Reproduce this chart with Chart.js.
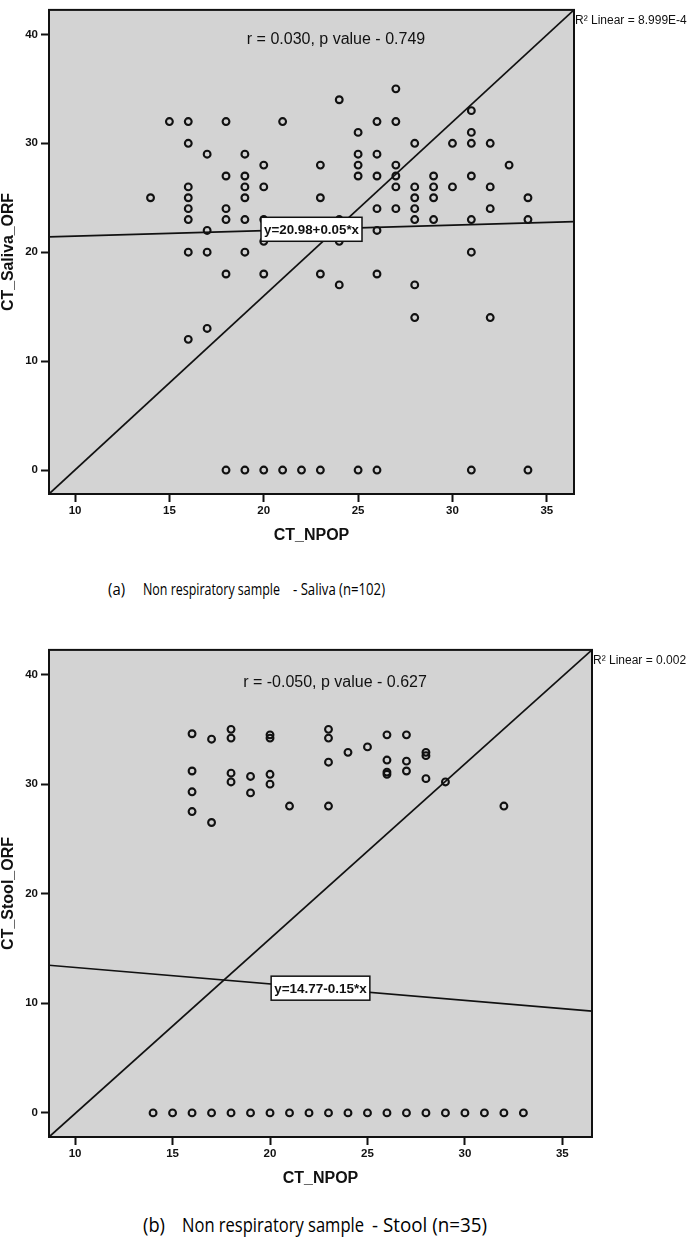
<!DOCTYPE html>
<html>
<head>
<meta charset="utf-8">
<script src="https://cdn.jsdelivr.net/npm/chart.js@4.4.1/dist/chart.umd.min.js"></script>
<style>
  html, body { margin: 0; padding: 0; background: #fff; }
  #page { position: relative; width: 689px; height: 1237px; overflow: hidden; }
  canvas { position: absolute; left: 0; }
  .cap { position: absolute; font-family: "Open Sans", "Noto Sans", sans-serif; color: #000; white-space: nowrap; transform-origin: 0 50%; }
</style>
</head>
<body>
<div id="page">
  <canvas id="chartA" width="689" height="560" style="top:0"></canvas>
  <canvas id="chartB" width="689" height="560" style="top:640px"></canvas>
</div>
<script>
// (a) saliva
const salivaNPOP = [14, 15,
  16, 16, 16, 16, 16, 16, 16, 16,
  17, 17, 17, 17,
  18, 18, 18, 18, 18, 18,
  19, 19, 19, 19, 19, 19, 19,
  20, 20, 20, 20, 20, 20,
  21, 21, 22,
  23, 23, 23, 23,
  24, 24, 24, 24,
  25, 25, 25, 25, 25,
  26, 26, 26, 26, 26, 26, 26,
  27, 27, 27, 27, 27, 27,
  28, 28, 28, 28, 28, 28, 28,
  29, 29, 29, 29,
  30, 30,
  31, 31, 31, 31, 31, 31, 31,
  32, 32, 32, 32,
  33,
  34, 34, 34];
const salivaORF = [25, 32,
  32, 30, 26, 25, 24, 23, 20, 12,
  29, 22, 20, 13,
  32, 27, 24, 23, 18, 0,
  29, 27, 26, 25, 23, 20, 0,
  28, 26, 23, 21, 18, 0,
  32, 0, 0,
  28, 25, 18, 0,
  34, 23, 21, 17,
  31, 29, 28, 27, 0,
  32, 29, 27, 24, 22, 18, 0,
  35, 32, 28, 27, 26, 24,
  30, 26, 25, 24, 23, 17, 14,
  27, 26, 25, 23,
  30, 26,
  33, 31, 30, 27, 23, 20, 0,
  30, 26, 24, 14,
  28,
  25, 23, 0];

// (b) stool
const stoolNPOP = [16, 16, 16, 16, 17, 17, 18, 18, 18, 18, 19, 19,
  20, 20, 20, 20, 21, 23, 23, 23, 23, 24, 25, 26, 26, 26, 26, 27, 27, 27,
  28, 28, 28, 29, 32,
  14, 15, 16, 17, 18, 19, 20, 21, 22, 23, 24, 25, 26, 27, 28, 29, 30, 31, 32, 33];
const stoolORF = [34.6, 31.2, 29.3, 27.5, 34.1, 26.5, 35, 34.2, 31, 30.2, 30.7, 29.2,
  34.5, 34.2, 30.9, 30, 28, 35, 34.2, 32, 28, 32.9, 33.4, 34.5, 32.2, 31.1, 30.9, 34.5, 32.1, 31.2,
  32.9, 32.6, 30.5, 30.2, 28,
  0, 0, 0, 0, 0, 0, 0, 0, 0, 0, 0, 0, 0, 0, 0, 0, 0, 0, 0, 0];

const xTickValues = [10, 15, 20, 25, 30, 35];
const yTickValues = [0, 10, 20, 30, 40];
const yLimits = [-2.2, 42.25];
const salivaXLimits = [8.62, 36.44];
const stoolXLimits = [8.66, 36.52];

// fit lines as printed on the charts
const salivaFit = [20.98, 0.05];
const stoolFit = [14.77, -0.15];

const INK = '#111';
const PLOT_BG = '#d3d3d3';
const SANS = '"Liberation Sans", Arial, sans-serif';

function makeDecor(d) {
  return {
    id: 'decor',
    beforeDraw(chart) {
      const { ctx, chartArea: a } = chart;
      ctx.save();
      ctx.fillStyle = PLOT_BG;
      ctx.fillRect(a.left, a.top, a.right - a.left, a.bottom - a.top);
      ctx.restore();
    },
    afterDatasetsDraw(chart) {
      const { ctx, chartArea: a, scales } = chart;
      ctx.save();
      // fit equation box, centred on the fit line at mid-plot
      const cx = (a.left + a.right) / 2;
      const xv = scales.x.getValueForPixel(cx);
      const cy = scales.y.getPixelForValue(d.fit[0] + d.fit[1] * xv);
      ctx.font = 'bold 13.5px ' + SANS;
      const w = Math.min(ctx.measureText(d.fitLabel).width, 95) + 6;
      const h = 24;
      ctx.fillStyle = '#fff';
      ctx.fillRect(cx - w / 2, cy - h / 2, w, h);
      ctx.lineWidth = 1.5;
      ctx.strokeStyle = INK;
      ctx.strokeRect(cx - w / 2, cy - h / 2, w, h);
      ctx.fillStyle = INK;
      ctx.textAlign = 'center';
      ctx.textBaseline = 'middle';
      ctx.fillText(d.fitLabel, cx, cy + 1, 95);

      // correlation note
      ctx.font = '16px ' + SANS;
      ctx.fillStyle = '#111';
      ctx.fillText(d.stat, d.statX, d.statY, 186);
      ctx.restore();
    },
    afterDraw(chart) {
      const { ctx, chartArea: a } = chart;
      ctx.save();
      ctx.lineWidth = 2;
      ctx.strokeStyle = INK;
      ctx.strokeRect(a.left, a.top, a.right - a.left, a.bottom - a.top);

      ctx.fillStyle = INK;
      ctx.textBaseline = 'middle';
      ctx.textAlign = 'left';
      ctx.font = '12px ' + SANS;
      ctx.fillText(d.r2, a.right + 1, a.top + 11, 114);

      ctx.textAlign = 'center';
      ctx.font = 'bold 16px ' + SANS;
      ctx.fillText(d.xTitle, (a.left + a.right) / 2, a.bottom + 42);
      ctx.translate(9, (a.top + a.bottom) / 2);
      ctx.rotate(-Math.PI / 2);
      ctx.fillText(d.yTitle, 0, 0, 118);
      ctx.restore();
    }
  };
}

function tickFont() {
  return { family: SANS, size: 11.5, weight: 'bold' };
}

function buildChart(id, d) {
  const pts = d.xs.map((v, i) => ({ x: v, y: d.ys[i] }));
  const [x0, x1] = d.xLim;
  const [y0, y1] = yLimits;
  return new Chart(document.getElementById(id), {
    type: 'scatter',
    data: {
      datasets: [
        {
          data: pts,
          pointStyle: 'circle',
          pointRadius: 3.4,
          borderWidth: 2.1,
          borderColor: INK,
          backgroundColor: 'rgba(0,0,0,0)',
          order: 2
        },
        {
          type: 'line',
          data: [{ x: x0, y: y0 }, { x: x1, y: y1 }],
          borderColor: INK,
          borderWidth: 1.7,
          pointRadius: 0,
          order: 1
        },
        {
          type: 'line',
          data: [{ x: x0, y: d.fit[0] + d.fit[1] * x0 }, { x: x1, y: d.fit[0] + d.fit[1] * x1 }],
          borderColor: INK,
          borderWidth: 1.7,
          pointRadius: 0,
          order: 1
        }
      ]
    },
    options: {
      responsive: false,
      animation: false,
      layout: { padding: { top: d.padTop, right: d.padRight, left: 0, bottom: 0 } },
      plugins: { legend: { display: false }, tooltip: { enabled: false } },
      scales: {
        x: {
          type: 'linear',
          min: x0,
          max: x1,
          afterFit: (s) => { s.height = d.axisH; },
          afterBuildTicks: (s) => { s.ticks = xTickValues.map((v) => ({ value: v })); },
          ticks: { font: tickFont(), color: '#111', padding: 2, maxRotation: 0 },
          grid: { drawOnChartArea: false, drawTicks: true, tickLength: 8, tickWidth: 2, tickColor: INK },
          border: { display: false }
        },
        y: {
          type: 'linear',
          min: y0,
          max: y1,
          afterFit: (s) => { s.width = 49; },
          afterBuildTicks: (s) => { s.ticks = yTickValues.map((v) => ({ value: v })); },
          ticks: { font: tickFont(), color: '#111', padding: 3 },
          grid: { drawOnChartArea: false, drawTicks: true, tickLength: 8, tickWidth: 2, tickColor: INK },
          border: { display: false }
        }
      }
    },
    plugins: [makeDecor(d)]
  });
}

buildChart('chartA', {
  xs: salivaNPOP, ys: salivaORF, xLim: salivaXLimits, fit: salivaFit,
  fitLabel: 'y=20.98+0.05*x',
  stat: 'r = 0.030, p value - 0.749', statX: 336, statY: 40,
  r2: 'R\u00b2 Linear = 8.999E-4',
  xTitle: 'CT_NPOP', yTitle: 'CT_Saliva_ORF',
  padTop: 1, padRight: 115, axisH: 66
});

buildChart('chartB', {
  xs: stoolNPOP, ys: stoolORF, xLim: stoolXLimits, fit: stoolFit,
  fitLabel: 'y=14.77-0.15*x',
  stat: 'r = -0.050, p value - 0.627', statX: 335, statY: 43,
  r2: 'R\u00b2 Linear = 0.002',
  xTitle: 'CT_NPOP', yTitle: 'CT_Stool_ORF',
  padTop: 3, padRight: 97, axisH: 63
});

// captions under each panel, each piece squeezed to the width it takes in the figure
function addCaption(centerY, size, parts) {
  const page = document.getElementById('page');
  for (const [text, left, width] of parts) {
    const el = document.createElement('span');
    el.className = 'cap';
    el.textContent = text;
    el.style.fontSize = size + 'px';
    el.style.fontWeight = '500';
    el.style.lineHeight = Math.round(size * 1.36) + 'px';
    el.style.left = left + 'px';
    el.style.top = (centerY - size * 0.68) + 'px';
    page.appendChild(el);
    const natural = el.getBoundingClientRect().width;
    el.style.transform = 'scaleX(' + (width / natural).toFixed(3) + ')';
  }
}

addCaption(589, 16, [['(a)', 108, 17], ['Non respiratory sample', 143, 137], ['- Saliva (n=102)', 293, 92]]);
addCaption(1225, 20, [['(b)', 143, 22], ['Non respiratory sample', 182, 182], ['- Stool (n=35)', 372, 115]]);
</script>
</body>
</html>
